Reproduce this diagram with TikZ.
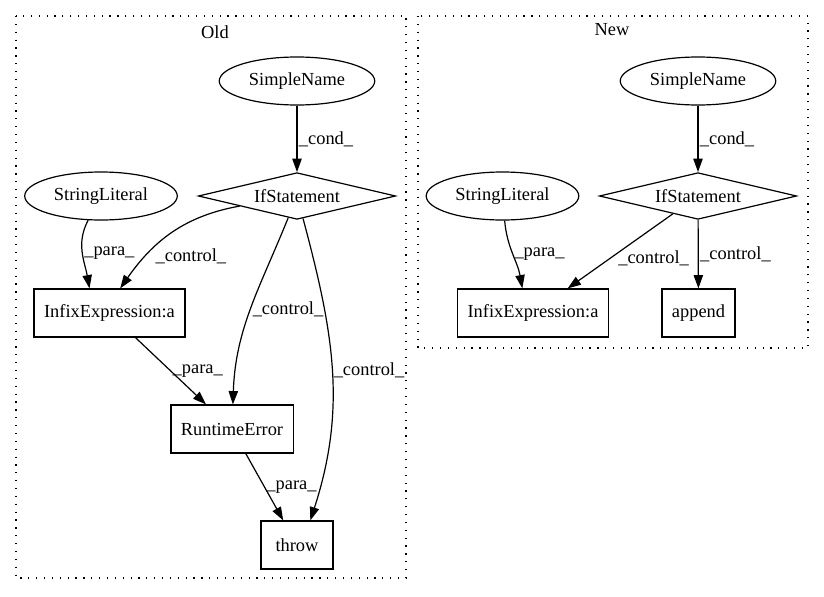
\documentclass[tikz,border=0pt]{standalone}
\usepackage{fontspec}
\setmainfont{Liberation Serif}
\usepackage{tikz}
\usetikzlibrary{shapes.geometric}
\usetikzlibrary{arrows.meta}
\newcommand{\lblfont}{\fontsize{13.8pt}{16pt}\selectfont}
\tikzstyle{ast}=[draw, line width=0.9pt, font=\lblfont, inner sep=0pt]
\tikzstyle{oval}=[ast, ellipse, minimum height=36pt, inner xsep=5.2pt, inner ysep=2pt]
\tikzstyle{ifdiamond}=[ast, diamond, aspect=4, minimum width=148pt, minimum height=35pt]
\tikzstyle{stmt}=[ast, rectangle, minimum height=36pt, minimum width=54pt, inner xsep=7.5pt]
\tikzstyle{flow}=[draw, line width=0.9pt, -{Triangle[length=10pt,width=7pt]}]
\tikzstyle{elabel}=[font=\lblfont, inner sep=1pt]
\tikzstyle{cluster}=[draw, line width=0.9pt, dash pattern=on 0.9pt off 5pt]

\begin{document}
\begin{tikzpicture}[x=0.75pt, y=-0.75pt]
        \useasboundingbox (0,0) rectangle (824,596);
        % old version
        \draw[cluster] (16,16) rectangle (406,578);
        \node[elabel] (oldTitle) at (215,32) {Old};
        \node[oval] (nameA) at (297,81) {SimpleName};
        \node[ifdiamond] (ifA) at (297,196) {IfStatement};
        \node[oval] (strA) at (101,196) {StringLiteral};
        \node[stmt] (infixA) at (109.5,313) {InfixExpression:a};
        \node[stmt] (rtA) at (232,429) {RuntimeError};
        \node[stmt] (throwA) at (297,545) {throw};
        \draw[flow] (nameA) -- node[elabel, anchor=west] {\_cond\_} (ifA);
        \draw[flow] (strA) to[out=-118, in=100] node[elabel, anchor=west] {\_para\_} ([xshift=-15pt]infixA.north);
        \draw[flow] (ifA) to[out=190, in=55] node[elabel, pos=.74, anchor=west, xshift=6pt] {\_control\_} ([xshift=8pt]infixA.north);
        \draw[flow] (ifA) to[out=-112, in=88] node[elabel, anchor=west] {\_control\_} (rtA);
        \draw[flow] (ifA) to[out=-75, in=72] node[elabel, anchor=west] {\_control\_} ([xshift=10pt]throwA.north);
        \draw[flow] (infixA) -- node[elabel, anchor=west] {\_para\_} (rtA);
        \draw[flow] (rtA) -- node[elabel, anchor=west] {\_para\_} (throwA);
        % new version
        \draw[cluster] (418,16) rectangle (808,348);
        \node[elabel] (newTitle) at (612,30) {New};
        \node[oval] (nameB) at (698,81) {SimpleName};
        \node[ifdiamond] (ifB) at (698,196) {IfStatement};
        \node[oval] (strB) at (502.5,196) {StringLiteral};
        \node[stmt] (infixB) at (533,313) {InfixExpression:a};
        \node[stmt] (appendB) at (698.5,313) {append};
        \draw[flow] (nameB) -- node[elabel, anchor=west] {\_cond\_} (ifB);
        \draw[flow] (strB) to[out=-85, in=100] node[elabel, anchor=west] {\_para\_} ([xshift=-8pt]infixB.north);
        \draw[flow] (ifB) -- node[elabel, pos=.6, anchor=west, xshift=5pt] {\_control\_} (infixB);
        \draw[flow] (ifB) -- node[elabel, anchor=west] {\_control\_} (appendB);
    \end{tikzpicture}
\end{document}
